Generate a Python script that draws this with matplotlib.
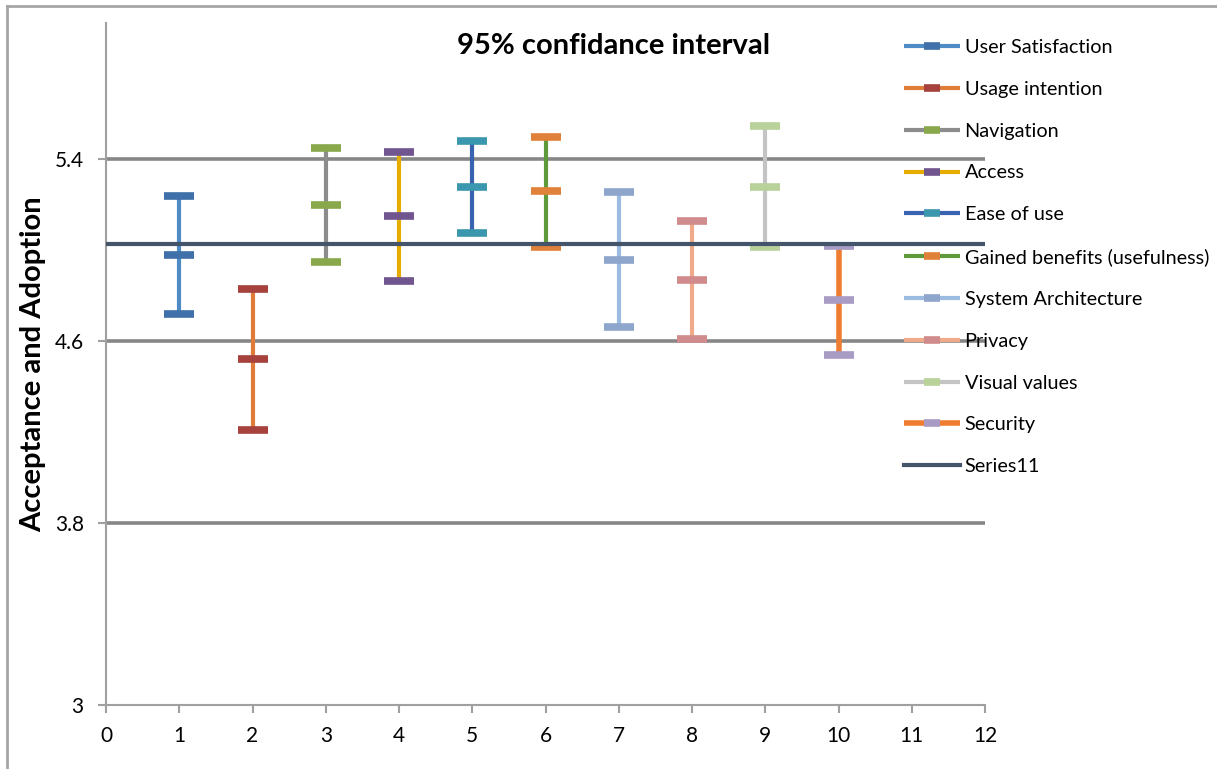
import numpy as np
import matplotlib.pyplot as plt
from matplotlib.lines import Line2D

plt.rcParams['font.family'] = ['Lato', 'DejaVu Sans']

# 95% confidence intervals per dimension: low bound, mean, high bound
labels = ['User Satisfaction', 'Usage intention', 'Navigation', 'Access',
          'Ease of use', 'Gained benefits (usefulness)', 'System Architecture',
          'Privacy', 'Visual values', 'Security']
positions = [1, 2, 3, 4, 5, 6, 7, 8, 9, 10]
low = [4.72, 4.21, 4.95, 4.865, 5.075, 5.015, 4.664, 4.61, 5.014, 4.54]
mean = [4.98, 4.52, 5.20, 5.149, 5.28, 5.26, 4.958, 4.869, 5.278, 4.78]
high = [5.238, 4.83, 5.45, 5.434, 5.483, 5.50, 5.255, 5.129, 5.545, 5.02]

series11_value = 5.027
series11_x = [0, 12]

line_colors = ['#4F8BC4', '#E07B39', '#8C8C8C', '#E6AC00', '#3B62AE',
               '#5E9A3A', '#9BBBE0', '#F0AA8A', '#C4C4C4', '#EE7D32']
marker_colors = ['#3F70A9', '#A6413D', '#88A84B', '#70558F', '#3B97AE',
                 '#E0813A', '#8FA6CC', '#D08C8C', '#B8D29A', '#A89BC4']
line_widths = [3, 3, 3, 3, 3, 3, 3, 3, 3, 4]

grid_levels = [3.8, 4.6, 5.4]
y_ticks = [3, 3.8, 4.6, 5.4]
x_ticks = list(range(0, 13))

fig = plt.figure(figsize=(12.17, 7.69), dpi=100)
ax = fig.add_axes([106 / 1217, 64 / 769, 879 / 1217, 682 / 769])

for g in grid_levels:
    ax.axhline(g, color='#868686', lw=2.6, zorder=1)

handles = []
for i in range(len(labels)):
    h, = ax.plot([positions[i]] * 3, [low[i], mean[i], high[i]],
                 color=line_colors[i], lw=line_widths[i], solid_capstyle='butt',
                 marker='_', markersize=22, markeredgewidth=5.5,
                 markeredgecolor=marker_colors[i], label=labels[i], zorder=3)
    handles.append(h)

s11, = ax.plot(series11_x, [series11_value] * 2, color='#44546A', lw=3,
               label='Series11', zorder=4)
handles.append(s11)

ax.set_xlim(0, 12)
ax.set_ylim(3, 6)
ax.set_xticks(x_ticks)
ax.set_yticks(y_ticks)
ax.set_yticklabels(['3', '3.8', '4.6', '5.4'])
for side in ['top', 'right']:
    ax.spines[side].set_visible(False)
for side in ['left', 'bottom']:
    ax.spines[side].set_color('#A0A0A0')
    ax.spines[side].set_linewidth(1.5)
ax.tick_params(axis='both', colors='#A0A0A0', labelcolor='black',
               labelsize=15, length=6, width=1.5)
ax.tick_params(axis='y', pad=10)
ax.tick_params(axis='x', pad=9)

ax.set_ylabel('Acceptance and Adoption', fontsize=21, fontweight='bold')
ax.yaxis.set_label_coords(-0.068, 0.5)

fig.text(614 / 1217, 1 - 46 / 769, '95% confidance interval', fontsize=21,
         fontweight='bold', ha='center', va='center')

fig.legend(handles=handles, loc='upper left',
           bbox_to_anchor=(904 / 1217, 1 - 39 / 769), frameon=False,
           fontsize=14.3, handlelength=2.8, handletextpad=0.25, labelspacing=1.25,
           borderpad=0, borderaxespad=0, numpoints=1, markerscale=0.5)

# outer chart frame
fig.add_artist(Line2D([7 / 1217, 7 / 1217], [0, 1 - 6 / 769],
                      transform=fig.transFigure, color='#A6A6A6', lw=2))
fig.add_artist(Line2D([7 / 1217, 1], [1 - 6 / 769, 1 - 6 / 769],
                      transform=fig.transFigure, color='#A6A6A6', lw=2))

fig.savefig('out.png', dpi=100)
